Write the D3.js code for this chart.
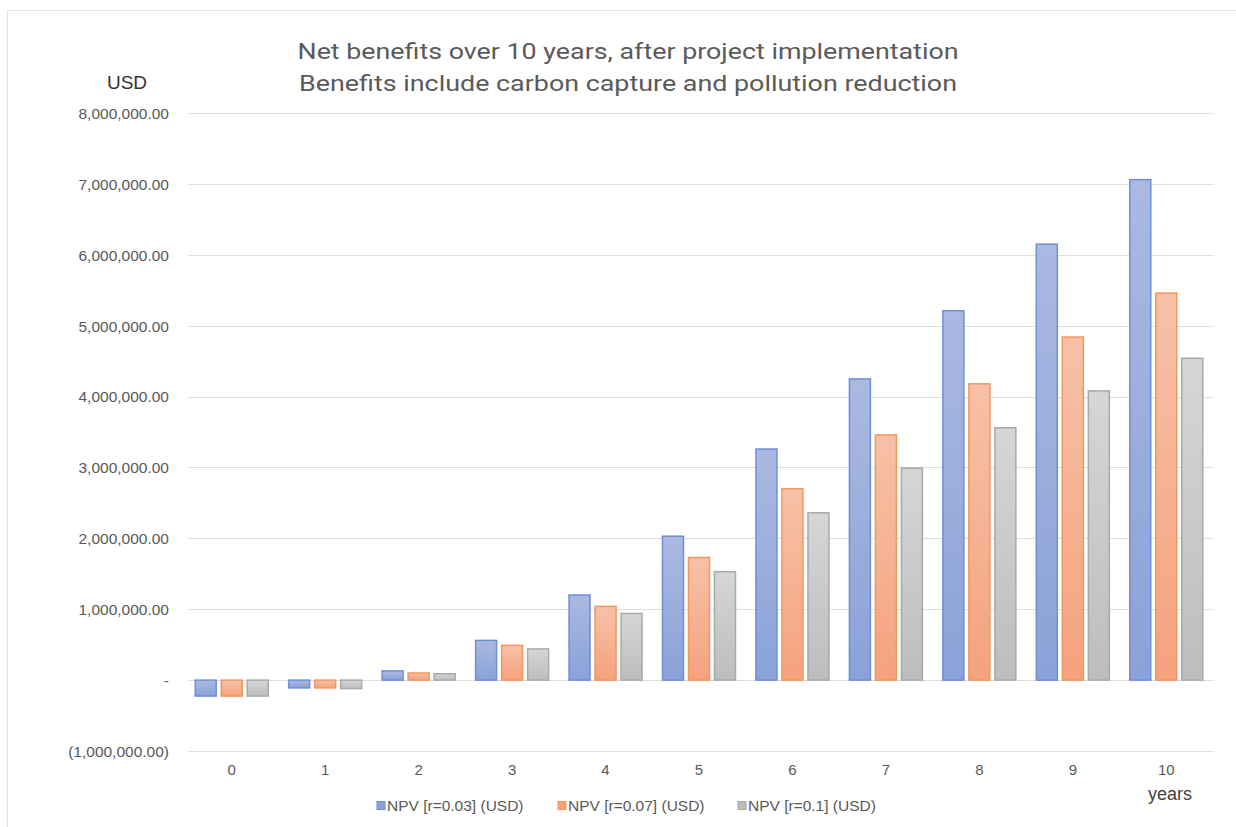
<!DOCTYPE html>
<html><head><meta charset="utf-8">
<script src="https://cdn.jsdelivr.net/npm/d3@7"></script>
<style>body{margin:0;background:#fff;}svg{display:block;font-family:"Liberation Sans",Arial,sans-serif;}</style>
</head><body><svg id="c" width="1236" height="827"></svg>
<script>
const years = ["0","1","2","3","4","5","6","7","8","9","10"];
const seriesNames = ["NPV [r=0.03] (USD)","NPV [r=0.07] (USD)","NPV [r=0.1] (USD)"];
const npv003 = [-225000,-110000,130000,560000,1200000,2030000,3260000,4250000,5210000,6150000,7060000];
const npv007 = [-225000,-110000,100000,490000,1040000,1730000,2700000,3460000,4180000,4840000,5460000];
const npv010 = [-225000,-120000,90000,440000,940000,1530000,2360000,2990000,3560000,4080000,4540000];
const yTicks = [-1000000,0,1000000,2000000,3000000,4000000,5000000,6000000,7000000,8000000];
const titleLines = ["Net benefits over 10 years, after project implementation","Benefits include carbon capture and pollution reduction"];

const seriesData = [npv003, npv007, npv010];
const fillTop = ["#abb9e1","#f7c1a8","#d6d6d6"];
const fillBot = ["#8aa2d8","#f5a27d","#bdbdbd"];
const strokes = ["#6f8fd6","#f2975f","#a9a9a9"];

const svg = d3.select("#c");
// frame
svg.append("rect").attr("x",7.5).attr("y",10.5).attr("width",1240).attr("height",830)
  .attr("fill","none").attr("stroke","#e3e3e3").attr("stroke-width",1);

const defs = svg.append("defs");
seriesNames.forEach((s,i)=>{
  const g = defs.append("linearGradient").attr("id","g"+i).attr("x1",0).attr("y1",0).attr("x2",0).attr("y2",1);
  g.append("stop").attr("offset","0%").attr("stop-color",fillTop[i]);
  g.append("stop").attr("offset","100%").attr("stop-color",fillBot[i]);
});

const left = 185, right = 1213;
const y = d3.scaleLinear().domain([-1000000, 8000000]).range([751, 113]);
const x0 = d3.scaleBand().domain(years).range([left, right]).paddingInner(0.208).paddingOuter(0.104);
const x1 = d3.scaleBand().domain(d3.range(3)).range([0, x0.bandwidth()]).paddingInner(4/26);

// gridlines
const fmt = v => v === 0 ? "-" : (v < 0 ? "(" + d3.format(",.2f")(-v) + ")" : d3.format(",.2f")(v));
const yAxis = d3.axisLeft(y).tickValues(yTicks).tickSize(0).tickFormat(fmt);
svg.append("g").selectAll("line").data(yTicks).join("line")
  .attr("x1", 188).attr("x2", right)
  .attr("y1", d=>Math.round(y(d))+0.5).attr("y2", d=>Math.round(y(d))+0.5)
  .attr("stroke","#dedede").attr("stroke-width",1.2);

const ya = svg.append("g").attr("transform","translate(169,0)").call(yAxis);
ya.select(".domain").remove();
ya.selectAll("text").attr("fill","#595959").attr("font-size",15.5)
  .attr("font-family","'Liberation Sans',Arial,sans-serif").attr("x",0).attr("dy","0.35em");

// bars
const groups = svg.append("g").selectAll("g").data(years).join("g")
  .attr("transform", d=>`translate(${x0(d)},0)`);
groups.selectAll("rect").data((d,j)=>seriesData.map((s,i)=>({i, v:s[j]}))).join("rect")
  .attr("x", d=>x1(d.i)+0.5)
  .attr("width", x1.bandwidth()-1)
  .attr("y", d=>Math.min(y(d.v), y(0)))
  .attr("height", d=>Math.abs(y(d.v)-y(0)))
  .attr("fill", d=>`url(#g${d.i})`)
  .attr("stroke", d=>strokes[d.i]).attr("stroke-width",1.5);

// x labels
const xAxis = d3.axisBottom(x0).tickSize(0).tickPadding(0);
const xa = svg.append("g").attr("transform","translate(0,764)").call(xAxis);
xa.select(".domain").remove();
xa.selectAll("text").attr("fill","#595959").attr("font-size",15)
  .attr("font-family","'Liberation Sans',Arial,sans-serif").attr("dy","0.71em");

// axis titles
svg.append("text").attr("x",127).attr("y",89).attr("text-anchor","middle")
  .attr("font-size",19).attr("fill","#333").text("USD");
svg.append("text").attr("x",1170).attr("y",800).attr("text-anchor","middle")
  .attr("font-size",18).attr("fill","#404040").text("years");

// title
const titleWidths = [661, 658];
svg.append("g").selectAll("text").data(titleLines).join("text")
  .attr("x",628).attr("y",(d,i)=>59+i*32).attr("text-anchor","middle")
  .attr("font-family","Roboto,sans-serif").attr("font-weight",400)
  .attr("font-size",22.5).attr("fill","#5a5a5a")
  .attr("textLength",(d,i)=>titleWidths[i]).attr("lengthAdjust","spacingAndGlyphs")
  .text(d=>d);

// legend
const legX = [377, 558, 738];
const leg = svg.append("g").selectAll("g").data(seriesNames).join("g")
  .attr("transform",(d,i)=>`translate(${legX[i]},806)`);
leg.append("rect").attr("x",0).attr("y",-4.5).attr("width",8).attr("height",8)
  .attr("fill",(d,i)=>fillBot[i]).attr("stroke",(d,i)=>strokes[i]).attr("stroke-width",1);
leg.append("text").attr("x",10).attr("y",0).attr("dy","0.35em")
  .attr("font-size",15.5).attr("fill","#595959").text(d=>d);
</script></body></html>
